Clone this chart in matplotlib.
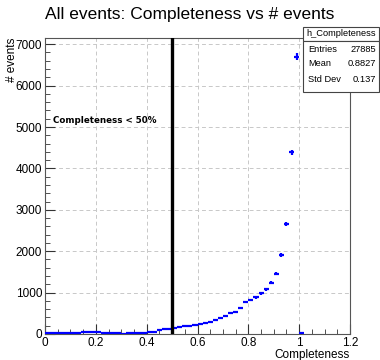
import numpy as np
import matplotlib
matplotlib.use("Agg")
import matplotlib.pyplot as plt
from matplotlib.patches import Rectangle
from matplotlib.ticker import MultipleLocator

plt.rcParams['font.family'] = ['Liberation Sans', 'DejaVu Sans']

# h_Completeness: 0.02 wide bins starting at 0
bin_width = 0.02
counts = [25, 20, 20, 25, 30, 30, 35, 45, 50, 50,
          45, 35, 25, 15, 15, 10, 15, 20, 20, 25,
          40, 60, 85, 110, 130, 150, 165, 185, 200, 220,
          245, 270, 300, 330, 380, 430, 500, 540, 635, 766,
          821, 886, 983, 1080, 1240, 1457, 1915, 2660, 4390, 6700,
          15]
stats_labels = ["Entries", "Mean", "Std Dev"]
stats_values = ["27885", "0.8827", "0.137"]
cut_value = 0.5

counts = np.array(counts, dtype=float)
centers = np.arange(len(counts)) * bin_width + bin_width / 2

W, H = 380, 360
fig = plt.figure(figsize=(W / 100, H / 100), dpi=100)
ax = fig.add_axes([45 / W, 1 - 334 / H, 305 / W, 296 / H])

ax.errorbar(centers, counts, xerr=bin_width / 2, yerr=np.sqrt(counts),
            fmt='none', ecolor='#0000ff', elinewidth=1.6, capsize=0, zorder=3)
ax.axvline(cut_value, color='black', lw=2.4, zorder=4)

ax.set_xlim(0, 1.2)
ax.set_ylim(0, 7150)
ax.xaxis.set_major_locator(MultipleLocator(0.2))
ax.xaxis.set_minor_locator(MultipleLocator(0.05))
ax.yaxis.set_major_locator(MultipleLocator(1000))
ax.yaxis.set_minor_locator(MultipleLocator(200))
ax.xaxis.set_major_formatter(matplotlib.ticker.FuncFormatter(lambda v, p: f"{v:g}"))
ax.tick_params(which='both', direction='in', labelsize=8.5, color='#333333')
ax.tick_params(which='major', length=7)
ax.tick_params(which='minor', length=3.5)
ax.tick_params(axis='x', pad=2)
ax.tick_params(axis='y', pad=2)
ax.grid(True, which='major', ls=(0, (4, 3)), color='#c8c8c8', lw=0.7)
for s in ax.spines.values():
    s.set_color('#555555')
    s.set_linewidth(0.8)

ax.text(0.03, 5150, "Completeness < 50%", fontsize=6.3, fontweight='bold',
        family='DejaVu Sans', va='center', ha='left')

ax.set_xlabel("Completeness", fontsize=8.5, ha='right', va='top')
ax.xaxis.set_label_coords(1, -15 / 296)
ax.set_ylabel("# events", fontsize=8.5, ha='right', va='center')
ax.yaxis.set_label_coords(-33 / 305, 1)
fig.text(190 / W, 1 - 14 / H, "All events: Completeness vs # events",
         fontsize=12.5, ha='center', va='center')

# statistics box in the top right corner
bx0, bx1 = 303 / W, 379 / W
by_top, by_mid, by_bot = 1 - 27 / H, 1 - 41 / H, 1 - 92 / H
for y0, y1 in [(by_mid, by_top), (by_bot, by_mid)]:
    fig.add_artist(Rectangle((bx0, y0), bx1 - bx0, y1 - y0, transform=fig.transFigure,
                             facecolor='white', edgecolor='#444444', lw=0.8, zorder=10))
fig.text((bx0 + bx1) / 2, (by_mid + by_top) / 2, "h_Completeness", fontsize=6.7,
         ha='center', va='center', zorder=11)
for i, (lab, val) in enumerate(zip(stats_labels, stats_values)):
    y = 1 - (49 + 15 * i) / H
    fig.text(bx0 + 5 / W, y, lab, fontsize=6.7, ha='left', va='center', zorder=11)
    fig.text(bx1 - 3 / W, y, val, fontsize=6.7, ha='right', va='center', zorder=11)

fig.savefig("out.png", dpi=100)
